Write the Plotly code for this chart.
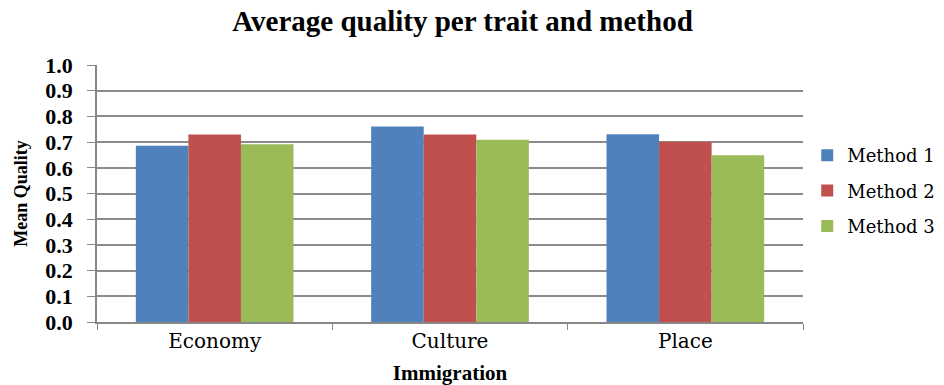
import plotly.graph_objects as go

# Mean quality per trait (Immigration topic) for each method
traits = ["Economy", "Culture", "Place"]
method_names = ["Method 1", "Method 2", "Method 3"]
method1 = [0.686, 0.761, 0.731]
method2 = [0.730, 0.730, 0.701]
method3 = [0.692, 0.709, 0.649]
colors = ["#4F81BD", "#C0504D", "#9BBB59"]

bold_serif = "Liberation Serif"
text_serif = "DejaVu Serif"

fig = go.Figure()
for name, vals, col in zip(method_names, [method1, method2, method3], colors):
    fig.add_trace(go.Bar(name=name, x=traits, y=vals, legendgroup=name,
                         marker=dict(color=col, line=dict(width=0))))

fig.update_layout(
    width=944, height=385,
    margin=dict(l=97, r=141, t=65, b=63, autoexpand=False),
    paper_bgcolor="white", plot_bgcolor="white",
    barmode="group", bargap=0.33, bargroupgap=0,
    title=dict(text="<b>Average quality per trait and method</b>",
               x=0.49, xanchor="center", y=0.945, yanchor="middle",
               font=dict(family=bold_serif, size=29, color="black")),
    legend=dict(x=1.006, xanchor="left", y=0.51, yanchor="middle",
                font=dict(family=text_serif, size=18, color="black"),
                itemwidth=30, tracegroupgap=9),
    font=dict(family=text_serif, color="black"),
)
fig.update_xaxes(
    showline=True, linecolor="#888888", linewidth=1.5,
    ticks="outside", tickson="boundaries", ticklen=6, tickcolor="#888888",
    tickfont=dict(family=text_serif, size=20, color="black"),
    title=dict(text="<b>Immigration</b>", font=dict(family=bold_serif, size=21, color="black"), standoff=17),
    showgrid=False,
)
fig.update_yaxes(
    range=[0, 1.0], dtick=0.1, tickformat=".1f",
    showline=True, linecolor="#888888", linewidth=1.5,
    ticks="outside", ticklen=8, tickcolor="#888888",
    ticklabelstandoff=10,
    showgrid=True, gridcolor="#8c8c8c", gridwidth=1.5,
    tickfont=dict(family=bold_serif, size=22, color="black", weight="bold"),
    title=dict(text="<b>Mean Quality</b>", font=dict(family=bold_serif, size=18, color="black"), standoff=13),
    zeroline=False,
)

fig.write_html("out.html")
